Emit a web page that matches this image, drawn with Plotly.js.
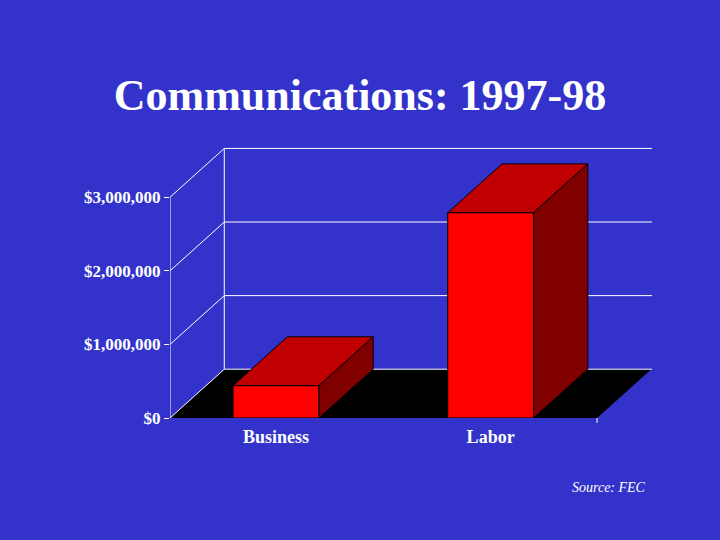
<!DOCTYPE html>
<html>
<head>
<meta charset="utf-8">
<script src="https://cdn.plot.ly/plotly-3.0.1.min.js"></script>
<style>
  html, body { margin: 0; padding: 0; background: #3333cc; }
  #chart { width: 720px; height: 540px; }
</style>
</head>
<body>
<div id="chart"></div>
<script>
// chart data
var categories = ['Business', 'Labor'];
var amounts = [440000, 2790000];
var tickValues = [0, 1000000, 2000000, 3000000];
var chartTitle = 'Communications: 1997-98';
var sourceNote = 'Source: FEC';

// fake 3d look: depth offset in axis units
var xMin = -0.494, xMax = 1.752;
var yMax = 3696000;
var floorRight = 1.496;
var depthX = 0.253, depthY = 663000;
var barHalf = 0.2;

var serif = '"Liberation Serif", "Times New Roman", serif';
var white = '#ffffff';

function topFace(i) {
  var v = amounts[i];
  return {
    x: [i - barHalf, i + barHalf, i + barHalf + depthX, i - barHalf + depthX, i - barHalf],
    y: [v, v, v + depthY, v + depthY, v],
    type: 'scatter', mode: 'lines', fill: 'toself',
    fillcolor: '#c00000', line: {color: '#000000', width: 1},
    hoverinfo: 'skip', showlegend: false
  };
}

function sideFace(i) {
  var v = amounts[i];
  var xr = i + barHalf;
  return {
    x: [xr, xr, xr + depthX, xr + depthX, xr],
    y: [0, v, v + depthY, depthY, 0],
    type: 'scatter', mode: 'lines', fill: 'toself',
    fillcolor: '#800000', line: {color: '#000000', width: 1},
    hoverinfo: 'skip', showlegend: false
  };
}

var traces = [{
  x: categories.map(function(c, i) { return i; }),
  y: amounts,
  type: 'bar',
  width: barHalf * 2,
  marker: {color: '#ff0000', line: {color: '#000000', width: 1}},
  hoverinfo: 'skip',
  showlegend: false
}];
for (var i = 0; i < categories.length; i++) {
  traces.push(topFace(i));
  traces.push(sideFace(i));
}

var shapes = [];
// floor
shapes.push({
  type: 'path', layer: 'below', xref: 'x', yref: 'y',
  path: 'M ' + xMin + ',0 L ' + floorRight + ',0 L ' + (floorRight + depthX) + ',' + depthY +
        ' L ' + (xMin + depthX) + ',' + depthY + ' Z',
  fillcolor: '#000000', line: {width: 0}
});
function addLine(x0, y0, x1, y1) {
  shapes.push({type: 'line', layer: 'below', xref: 'x', yref: 'y',
    x0: x0, y0: y0, x1: x1, y1: y1, line: {color: white, width: 1}});
}
addLine(xMin, 0, xMin, tickValues[tickValues.length - 1]);
addLine(xMin + depthX, depthY, xMin + depthX, tickValues[tickValues.length - 1] + depthY);
tickValues.forEach(function(v) {
  addLine(xMin, v, xMin + depthX, v + depthY);
  addLine(xMin + depthX, v + depthY, xMax, v + depthY);
});
// small tick under the front right corner of the floor
shapes.push({type: 'line', xref: 'x', yref: 'paper', x0: floorRight, x1: floorRight,
  y0: 0, y1: -0.018, line: {color: white, width: 1}});

var layout = {
  width: 720,
  height: 540,
  paper_bgcolor: '#3333cc',
  plot_bgcolor: 'rgba(0,0,0,0)',
  margin: {l: 170, r: 68, t: 146, b: 122},
  title: {
    text: chartTitle,
    font: {family: serif, size: 44, color: white, weight: 'bold'},
    x: 0.5, xref: 'container', xanchor: 'center',
    y: 1 - 95 / 540, yref: 'container', yanchor: 'middle'
  },
  xaxis: {
    range: [xMin, xMax],
    tickvals: categories.map(function(c, i) { return i; }),
    ticktext: categories,
    ticks: '',
    ticklabelstandoff: 6,
    showgrid: false, zeroline: false, showline: false,
    tickfont: {family: serif, size: 18, color: white, weight: 'bold'},
    fixedrange: true
  },
  yaxis: {
    range: [0, yMax],
    tickvals: tickValues,
    tickformat: '$,.0f',
    ticks: 'outside', ticklen: 5, tickcolor: white, tickwidth: 1,
    showgrid: false, zeroline: false, showline: false,
    tickfont: {family: serif, size: 17, color: white, weight: 'bold'},
    fixedrange: true
  },
  shapes: shapes,
  annotations: [{
    text: sourceNote,
    xref: 'paper', yref: 'paper',
    x: (609 - 170) / 482, y: (418 - 487) / 272,
    xanchor: 'center', yanchor: 'middle',
    showarrow: false,
    font: {family: serif, size: 14, color: white, style: 'italic'}
  }],
  bargap: 0
};

Plotly.newPlot('chart', traces, layout, {displayModeBar: false, staticPlot: true});
</script>
</body>
</html>
